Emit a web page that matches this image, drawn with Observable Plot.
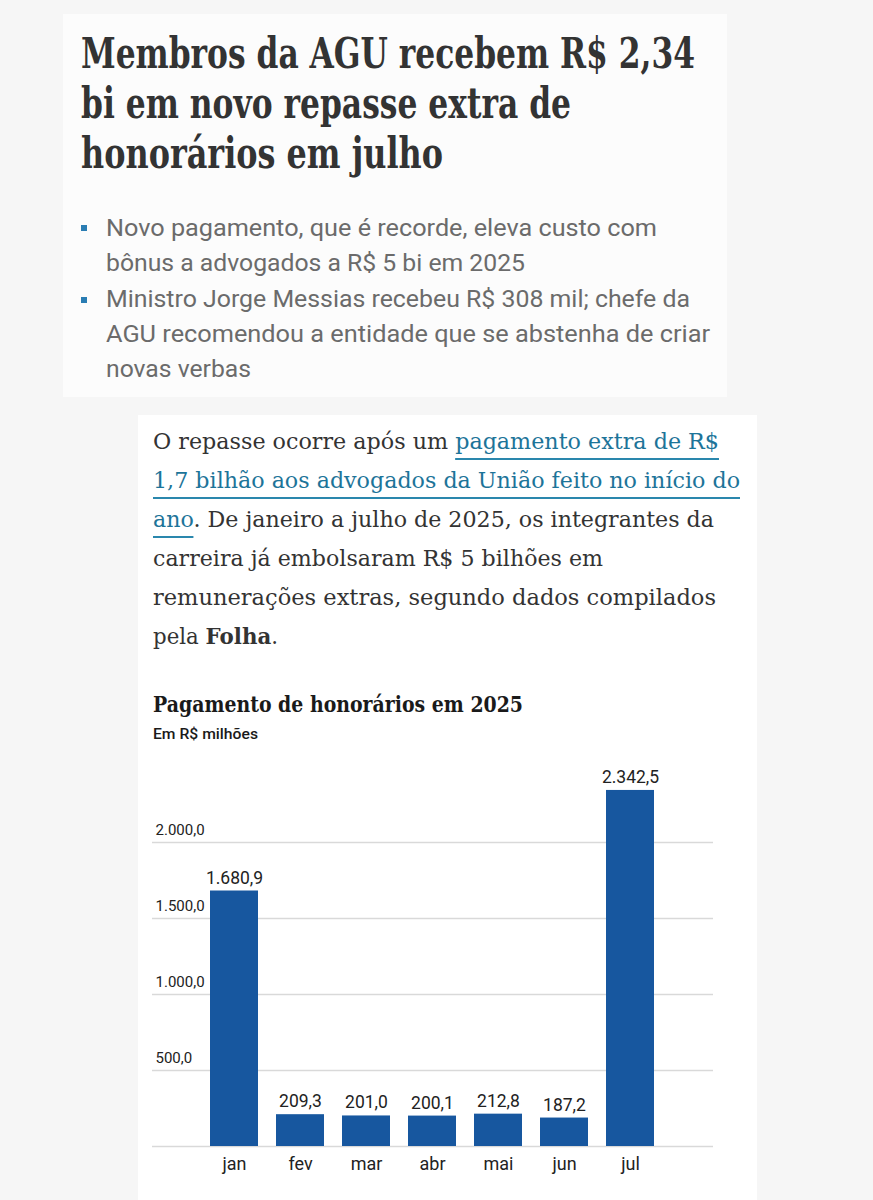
<!DOCTYPE html>
<html><head><meta charset="utf-8">
<script src="https://cdn.jsdelivr.net/npm/d3@7"></script>
<script src="https://cdn.jsdelivr.net/npm/@observablehq/plot@0.6"></script>
<style>
html,body{margin:0;padding:0}
body{width:873px;height:1200px;background:#f6f6f6;position:relative;overflow:hidden}
.box{position:absolute}
.ln{position:absolute;white-space:nowrap;transform-origin:0 0;top:0}
.hl{font-family:"DejaVu Serif";font-weight:bold;font-size:43px;color:#333;left:80.7px}
.bl{font-family:Roboto;font-size:24px;color:#6b6b6b;left:105.7px}
.pg{font-family:"DejaVu Serif";font-size:22.5px;color:#333;left:152.7px}
a{color:#1d7499;text-decoration:underline;text-decoration-color:#2a87ad;text-decoration-thickness:2px;text-underline-offset:9px}
.sq{position:absolute;width:6px;height:6px;background:#2a7db3;left:80.7px}
#chart{position:absolute;left:0;top:740px}
</style></head>
<body>
<div class="box" style="left:63px;top:14px;width:664px;height:383px;background:#fcfcfc"></div>
<div class="box" style="left:138px;top:415px;width:619px;height:785px;background:#fff"></div>

<div class="ln hl" data-b="68.3" data-w="614">Membros da AGU recebem R$ 2,34</div>
<div class="ln hl" data-b="118.3" data-w="490">bi em novo repasse extra de</div>
<div class="ln hl" data-b="168.3" data-w="362">honorários em julho</div>

<div class="sq" style="top:225px"></div>
<div class="sq" style="top:296.7px"></div>
<div class="ln bl" data-b="235.7" data-w="551">Novo pagamento, que é recorde, eleva custo com</div>
<div class="ln bl" data-b="271" data-w="419">bônus a advogados a R$ 5 bi em 2025</div>
<div class="ln bl" data-b="306.7" data-w="584">Ministro Jorge Messias recebeu R$ 308 mil; chefe da</div>
<div class="ln bl" data-b="341.7" data-w="604">AGU recomendou a entidade que se abstenha de criar</div>
<div class="ln bl" data-b="376.7" data-w="145">novas verbas</div>

<div class="ln pg" data-b="449.3" data-w="566">O repasse ocorre após um <a>pagamento extra de R$</a></div>
<div class="ln pg" data-b="488.3" data-w="587"><a>1,7 bilhão aos advogados da União feito no início do</a></div>
<div class="ln pg" data-b="527.3" data-w="561"><a>ano</a>. De janeiro a julho de 2025, os integrantes da</div>
<div class="ln pg" data-b="566.3" data-w="450">carreira já embolsaram R$ 5 bilhões em</div>
<div class="ln pg" data-b="605.3" data-w="563">remunerações extras, segundo dados compilados</div>
<div class="ln pg" data-b="644.3" data-w="125">pela <b>Folha</b>.</div>

<div class="ln" style="left:153px;font-family:'DejaVu Serif';font-weight:bold;font-size:23px;color:#1a1a1a" data-b="711.7" data-w="370">Pagamento de honorários em 2025</div>
<div class="ln" style="left:153px;font-family:Roboto;font-weight:500;font-size:14px;color:#1a1a1a" data-b="738.5" data-w="105">Em R$ milhões</div>

<div id="chart"></div>

<script>
const months = ["jan", "fev", "mar", "abr", "mai", "jun", "jul"];
const values = [1680.9, 209.3, 201.0, 200.1, 212.8, 187.2, 2342.5];
const yTicks = [500, 1000, 1500, 2000];
const gridValues = [0, 500, 1000, 1500, 2000];

const data = months.map((m, i) => ({month: m, value: values[i]}));
const loc = d3.formatLocale({decimal: ",", thousands: ".", grouping: [3], currency: ["R$", ""]});
const fmt = loc.format(",.1f");

const chart = Plot.plot({
  width: 873,
  height: 460,
  marginLeft: 152,
  marginRight: 160,
  marginTop: 41.2,
  marginBottom: 54,
  style: {fontFamily: "Roboto", background: "transparent", color: "#222", overflow: "visible"},
  x: {domain: months, paddingInner: 0.27, paddingOuter: 0.85},
  y: {domain: [0, 2400], axis: null},
  marks: [
    Plot.ruleY(gridValues, {stroke: "#d9d9d9", strokeWidth: 1.5}),
    Plot.barY(data, {x: "month", y: "value", fill: "#17579f"}),
    Plot.text(data, {x: "month", y: "value", text: d => fmt(d.value), lineAnchor: "bottom", dy: -7.5, fontSize: 17.5, fill: "#222"}),
    Plot.text(yTicks, {y: d => d, frameAnchor: "left", text: d => fmt(d), textAnchor: "start", lineAnchor: "bottom", dx: 3, dy: -8, fontSize: 15, fill: "#222"}),
    Plot.axisX({tickSize: 0, tickPadding: 11, fontSize: 18, label: null, fill: "#222"})
  ]
});
document.getElementById("chart").appendChild(chart);

function fit() {
  document.querySelectorAll(".ln").forEach(el => {
    el.style.transform = "none";
    const r = el.getBoundingClientRect();
    const m = document.createElement("span");
    m.style.cssText = "display:inline-block;width:0;height:0;vertical-align:baseline";
    el.appendChild(m);
    const base = m.getBoundingClientRect().bottom - r.top;
    m.remove();
    el.style.top = (+el.dataset.b - base) + "px";
    if (el.dataset.w) el.style.transform = `scaleX(${+el.dataset.w / r.width})`;
  });
}
fit();
if (document.fonts && document.fonts.ready) document.fonts.ready.then(fit);
</script>
</body></html>
